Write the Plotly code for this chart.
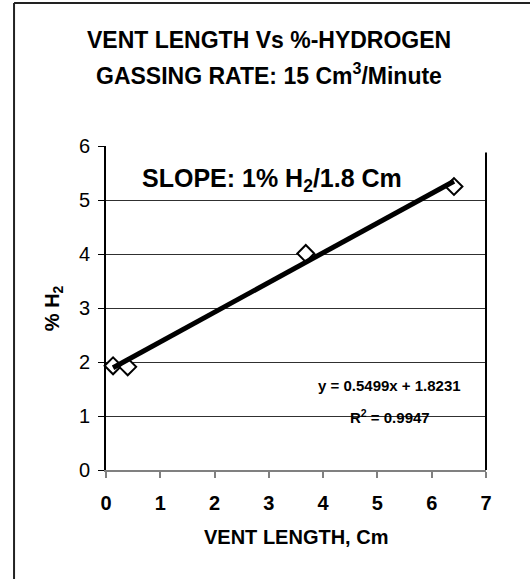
"""Vent length vs %-hydrogen scatter with linear trendline"""
import numpy as np
import plotly.graph_objects as go

# data
vent_length = [0.13, 0.40, 3.68, 6.41]
pct_h2 = [1.93, 1.91, 4.01, 5.25]

# trendline coefficients as printed on the chart
slope = 0.5499
intercept = 1.8231
r_squared = 0.9947

x_ticks = [0, 1, 2, 3, 4, 5, 6, 7]
y_ticks = [0, 1, 2, 3, 4, 5, 6]

FONT = "Liberation Sans, Arial, sans-serif"

fig = go.Figure()

# markers first, trendline drawn on top (as in Excel)
fig.add_trace(go.Scatter(
    x=vent_length,
    y=pct_h2,
    mode='markers',
    marker=dict(symbol='diamond', size=13, color='white',
                line=dict(color='black', width=2)),
    showlegend=False,
    cliponaxis=False
))

x_fit = np.array([min(vent_length), max(vent_length)])
fig.add_trace(go.Scatter(
    x=x_fit,
    y=slope * x_fit + intercept,
    mode='lines',
    line=dict(color='black', width=5),
    showlegend=False
))

fig.update_layout(
    width=530, height=579,
    margin=dict(l=106, r=44, t=146, b=109),
    paper_bgcolor='white',
    plot_bgcolor='white',
    font=dict(family=FONT, color='black'),
    xaxis=dict(
        range=[0, 7],
        tickvals=x_ticks,
        ticks='outside', ticklen=6, tickcolor='#808080', tickwidth=2,
        ticklabelstandoff=8,
        showline=True, linecolor='#808080', linewidth=2,
        showgrid=False, zeroline=False,
        tickfont=dict(size=20, family=FONT, weight='bold'),
    ),
    yaxis=dict(
        range=[0, 6],
        tickvals=y_ticks,
        ticks='outside', ticklen=6, tickcolor='black', tickwidth=1,
        ticklabelstandoff=4,
        showline=True, linecolor='black', linewidth=2,
        showgrid=True, gridcolor='#303030', gridwidth=1,
        zeroline=False,
        tickfont=dict(size=20, family=FONT),
    ),
)

common = dict(showarrow=False, xanchor='center', yanchor='middle')
annotations = [
    dict(text="<b>VENT LENGTH Vs %-HYDROGEN</b>", xref='paper', yref='paper',
         x=0.429, y=1.327, font=dict(size=23), **common),
    dict(text="<b>GASSING RATE: 15 Cm<sup>3</sup>/Minute</b>", xref='paper', yref='paper',
         x=0.429, y=1.222, font=dict(size=23), **common),
    dict(text="<b>VENT LENGTH, Cm</b>", xref='paper', yref='paper',
         x=0.5, y=-0.207, font=dict(size=20), **common),
    dict(text="<b>% H<sub>2</sub></b>", xref='paper', yref='paper',
         x=-0.139, y=0.50, textangle=-90, font=dict(size=20), **common),
    dict(text="<b>SLOPE: 1% H<sub>2</sub>/1.8 Cm</b>", xref='x', yref='y',
         x=0.63, y=5.37, font=dict(size=25),
         showarrow=False, xanchor='left', yanchor='middle'),
    dict(text=f"<b>y = {slope}x + {intercept}</b>", xref='x', yref='y',
         x=6.58, y=1.57, font=dict(size=15),
         showarrow=False, xanchor='right', yanchor='middle'),
    dict(text=f"<b>R<sup>2</sup> = {r_squared}</b>", xref='x', yref='y',
         x=6.0, y=1.0, font=dict(size=15),
         showarrow=False, xanchor='right', yanchor='middle'),
]
fig.update_layout(annotations=annotations)

# right plot-area edge and outer chart border
fig.add_shape(type='line', xref='paper', yref='paper', x0=1, x1=1, y0=0, y1=0.98,
              line=dict(color='black', width=2))
fig.add_shape(type='line', xref='paper', yref='paper', x0=-0.242, x1=-0.242, y0=-0.5, y1=1.441,
              line=dict(color='#222222', width=2))
fig.add_shape(type='line', xref='paper', yref='paper', x0=-0.242, x1=1.5, y0=1.441, y1=1.441,
              line=dict(color='#222222', width=2))

# drop the default page margin so the figure sits at the window's corner
fig.write_html("out.html", config={'displayModeBar': False},
               post_script="document.body.style.margin='0';")
